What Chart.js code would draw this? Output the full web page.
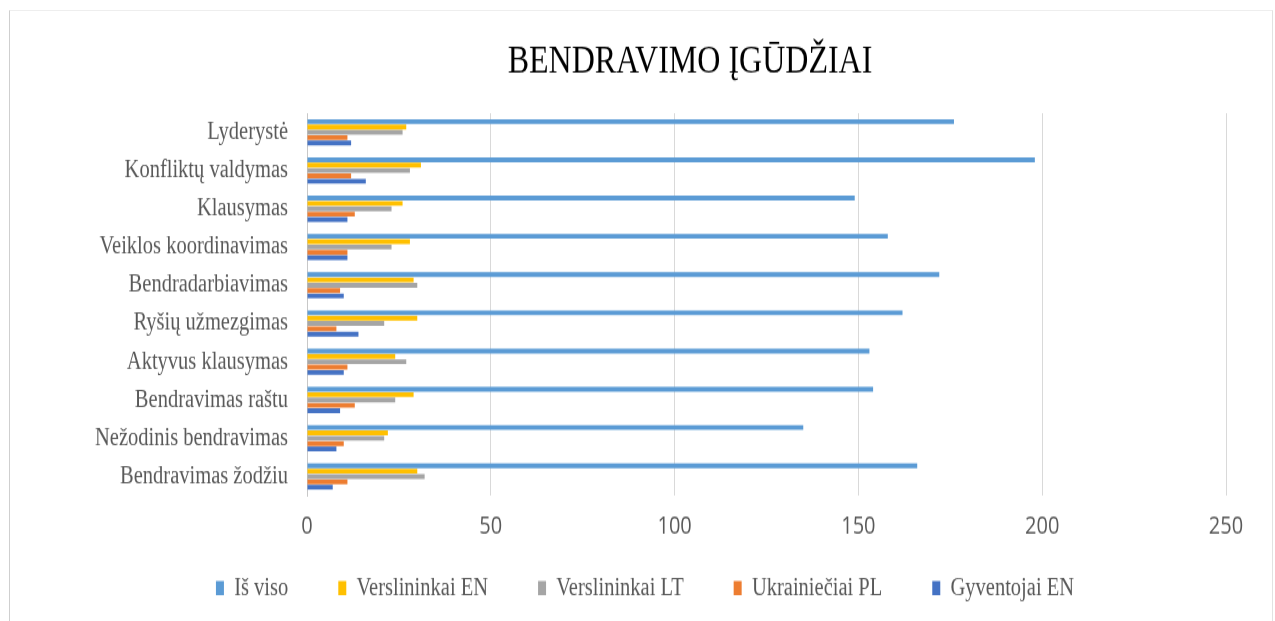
<!DOCTYPE html>
<html>
<head>
<meta charset="utf-8">
<script src="https://cdn.jsdelivr.net/npm/chart.js@4"></script>
<style>
  body { margin: 0; background: #fff; overflow: hidden; }
  #frame {
    position: absolute; left: 9px; top: 10px; width: 1262px; height: 700px;
    border-left: 1px solid #cfcfcf; border-top: 1px solid #eeeeee; border-right: 1px solid #e2e2e2;
  }
  /* the original picture is stretched vertically, so the canvas is drawn shorter and scaled up */
  #chart { position: absolute; left: 0; top: 0; width: 1275px; height: 621px; }
</style>
</head>
<body>
<div id="frame"></div>
<canvas id="chart" width="1275" height="505" style="width:1275px;height:621px"></canvas>
<script>
// Chart title
const chartTitle = 'BENDRAVIMO ĮGŪDŽIAI';

// Skills (top to bottom)
const skills = [
    'Lyderystė',
    'Konfliktų valdymas',
    'Klausymas',
    'Veiklos koordinavimas',
    'Bendradarbiavimas',
    'Ryšių užmezgimas',
    'Aktyvus klausymas',
    'Bendravimas raštu',
    'Nežodinis bendravimas',
    'Bendravimas žodžiu'
];

// Series values, same order as skills
const isViso = [176, 198, 149, 158, 172, 162, 153, 154, 135, 166];
const verslininkaiEN = [27, 31, 26, 28, 29, 30, 24, 29, 22, 30];
const verslininkaiLT = [26, 28, 23, 23, 30, 21, 27, 24, 21, 32];
const ukrainieciaiPL = [11, 12, 13, 11, 9, 8, 11, 13, 10, 11];
const gyventojaiEN = [12, 16, 11, 11, 10, 14, 10, 9, 8, 7];

// Value axis: 0 to 250, step 50
const xMin = 0;
const xMax = 250;
const xStep = 50;

const greyText = '#595959';
const serif = '"Liberation Serif", "Times New Roman", serif';

// Draw the title a bit right of the page centre, like the original
const titlePlugin = {
    id: 'chartTitle',
    afterDraw(chart) {
        const ctx = chart.ctx;
        ctx.save();
        ctx.font = '32px ' + serif;
        ctx.fillStyle = '#000';
        ctx.textAlign = 'center';
        ctx.textBaseline = 'alphabetic';
        ctx.fillText(chartTitle, 690, 58.5);
        ctx.restore();
    }
};

function series(label, data, color) {
    return {
        label: label,
        data: data,
        backgroundColor: color,
        borderWidth: 0,
        categoryPercentage: 0.7,
        barPercentage: 0.9
    };
}

const ctx = document.getElementById('chart').getContext('2d');
const myChart = new Chart(ctx, {
    type: 'bar',
    data: {
        labels: skills,
        datasets: [
            series('Iš viso', isViso, '#5B9BD5'),
            series('Verslininkai EN', verslininkaiEN, '#FFC000'),
            series('Verslininkai LT', verslininkaiLT, '#A5A5A5'),
            series('Ukrainiečiai PL', ukrainieciaiPL, '#ED7D31'),
            series('Gyventojai EN', gyventojaiEN, '#4472C4')
        ]
    },
    options: {
        indexAxis: 'y',
        responsive: false,
        animation: false,
        devicePixelRatio: 1,
        layout: {
            padding: { top: 92, left: 64, right: 49, bottom: 6.6 }
        },
        scales: {
            x: {
                min: xMin,
                max: xMax,
                // thin axis box so the wide legend sits close under the tick labels;
                // mirrored ticks with negative padding are drawn below it without clipping
                afterFit: (scale) => { scale.height = 14.9; },
                grid: { color: '#d9d9d9', lineWidth: 1, drawTicks: false },
                border: { display: false },
                ticks: {
                    stepSize: xStep,
                    mirror: true,
                    padding: -37,
                    color: greyText,
                    font: { family: '"Open Sans", sans-serif', size: 20 }
                }
            },
            y: {
                afterFit: (scale) => { scale.width = 243; },
                grid: { display: false, drawTicks: false },
                border: { display: true, color: '#c8c8c8', width: 1 },
                ticks: {
                    padding: 19,
                    color: greyText,
                    font: { family: serif, size: 20.5 }
                }
            }
        },
        plugins: {
            title: { display: false },
            tooltip: { enabled: false },
            legend: {
                position: 'bottom',
                labels: {
                    boxWidth: 8,
                    boxHeight: 11.5,
                    padding: 50,
                    color: greyText,
                    font: { family: serif, size: 20.5 }
                }
            }
        }
    },
    plugins: [titlePlugin]
});
</script>
</body>
</html>
